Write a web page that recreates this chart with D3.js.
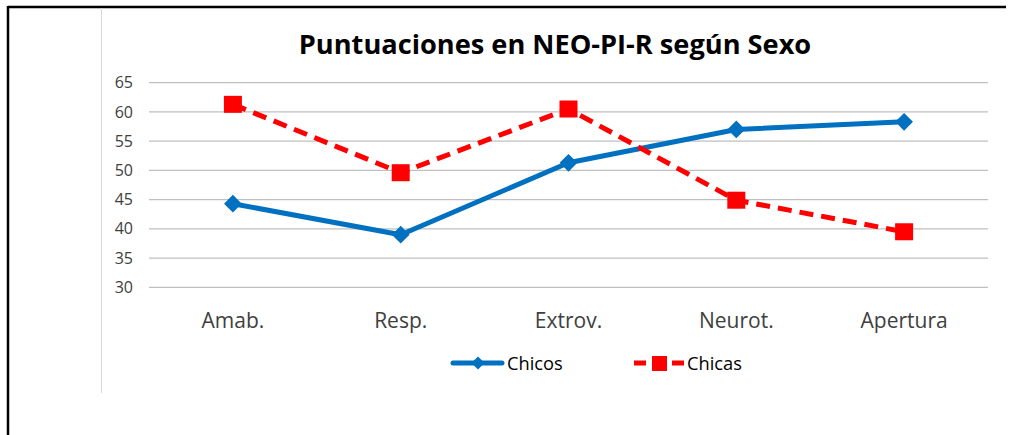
<!DOCTYPE html>
<html>
<head>
<meta charset="utf-8">
<script src="https://cdn.jsdelivr.net/npm/d3@7"></script>
<style>
  body { margin: 0; background: #fff; }
  svg { display: block; font-family: "Open Sans", "DejaVu Sans", sans-serif; }
</style>
</head>
<body>
<div id="chart"></div>
<script>
// data
var categories = ["Amab.", "Resp.", "Extrov.", "Neurot.", "Apertura"];
var chicos = [44.3, 39.0, 51.3, 57.0, 58.3];
var chicas = [61.3, 49.6, 60.5, 44.9, 39.5];
var yTicks = [30, 35, 40, 45, 50, 55, 60, 65];

var width = 1011, height = 435;

var svg = d3.select("#chart").append("svg")
    .attr("width", width)
    .attr("height", height);

// outer frame (top and left only, like the screenshot)
svg.append("line")
    .attr("x1", 8).attr("y1", 7).attr("x2", 1006).attr("y2", 7)
    .attr("stroke", "#000").attr("stroke-width", 2.5);
svg.append("line")
    .attr("x1", 8).attr("y1", 6).attr("x2", 8).attr("y2", 435)
    .attr("stroke", "#000").attr("stroke-width", 2.5);
// faint page rule
svg.append("line")
    .attr("x1", 101.5).attr("y1", 8).attr("x2", 101.5).attr("y2", 393)
    .attr("stroke", "#d9d9d9").attr("stroke-width", 1);

var xScale = d3.scaleBand()
    .domain(categories)
    .range([149, 988]);

var yScale = d3.scaleLinear()
    .domain([30, 65])
    .range([287.3, 82.7]);

// gridlines
svg.selectAll("line.grid")
    .data(yTicks)
    .enter()
    .append("line")
    .attr("class", "grid")
    .attr("x1", 149).attr("x2", 988)
    .attr("y1", d => yScale(d)).attr("y2", d => yScale(d))
    .attr("stroke", "#bfbfbf").attr("stroke-width", 1.3);

// y axis labels
var yAxis = d3.axisLeft(yScale).tickValues(yTicks).tickSize(0).tickPadding(0);
var gy = svg.append("g").attr("transform", "translate(133,0)").call(yAxis);
gy.select(".domain").remove();
gy.selectAll("text")
    .attr("font-size", 16)
    .attr("font-family", "Open Sans, sans-serif")
    .attr("fill", "#404040");

// x axis labels
var xAxis = d3.axisBottom(xScale).tickSize(0).tickPadding(0);
var gx = svg.append("g").attr("transform", "translate(0,313)").call(xAxis);
gx.select(".domain").remove();
gx.selectAll("text")
    .attr("font-size", 21)
    .attr("font-family", "Open Sans, sans-serif")
    .attr("fill", "#404040");

var cx = d => xScale(d) + xScale.bandwidth() / 2;

// Chicos line
var lineChicos = d3.line()
    .x((d, i) => cx(categories[i]))
    .y(d => yScale(d));

svg.append("path")
    .datum(chicos)
    .attr("d", lineChicos)
    .attr("fill", "none")
    .attr("stroke", "#0070c0")
    .attr("stroke-width", 5)
    .attr("stroke-linejoin", "round");

var diamond = d3.symbol().type(d3.symbolDiamond2).size(200);
svg.selectAll("path.chicos")
    .data(chicos)
    .enter()
    .append("path")
    .attr("class", "chicos")
    .attr("d", diamond)
    .attr("transform", (d, i) => "translate(" + cx(categories[i]) + "," + yScale(d) + ")")
    .attr("fill", "#0070c0");

// Chicas line (dashed)
svg.append("path")
    .datum(chicas)
    .attr("d", lineChicos)
    .attr("fill", "none")
    .attr("stroke", "#ff0000")
    .attr("stroke-width", 5)
    .attr("stroke-dasharray", "14,8");

svg.selectAll("rect.chicas")
    .data(chicas)
    .enter()
    .append("rect")
    .attr("class", "chicas")
    .attr("x", (d, i) => cx(categories[i]) - 9)
    .attr("y", d => yScale(d) - 8.5)
    .attr("width", 18).attr("height", 17)
    .attr("fill", "#ff0000");

// title
svg.append("text")
    .attr("x", 555).attr("y", 54)
    .attr("text-anchor", "middle")
    .attr("font-size", 27.2)
    .attr("font-weight", "bold")
    .attr("font-family", "Open Sans, sans-serif")
    .attr("fill", "#000")
    .text("Puntuaciones en NEO-PI-R según Sexo");

// legend
var legend = svg.append("g");
legend.append("line")
    .attr("x1", 453).attr("x2", 502).attr("y1", 363).attr("y2", 363)
    .attr("stroke", "#0070c0").attr("stroke-width", 5).attr("stroke-linecap", "round");
legend.append("path")
    .attr("d", d3.symbol().type(d3.symbolDiamond2).size(110))
    .attr("transform", "translate(478,363)")
    .attr("fill", "#0070c0");
legend.append("text")
    .attr("x", 507).attr("y", 369.5)
    .attr("font-size", 18.3)
    .attr("fill", "#000")
    .text("Chicos");

legend.append("line")
    .attr("x1", 634).attr("x2", 685).attr("y1", 363).attr("y2", 363)
    .attr("stroke", "#ff0000").attr("stroke-width", 5)
    .attr("stroke-dasharray", "12,7");
legend.append("rect")
    .attr("x", 652).attr("y", 356).attr("width", 15).attr("height", 15)
    .attr("fill", "#ff0000");
legend.append("text")
    .attr("x", 687).attr("y", 369.5)
    .attr("font-size", 18.3)
    .attr("fill", "#000")
    .text("Chicas");
</script>
</body>
</html>
